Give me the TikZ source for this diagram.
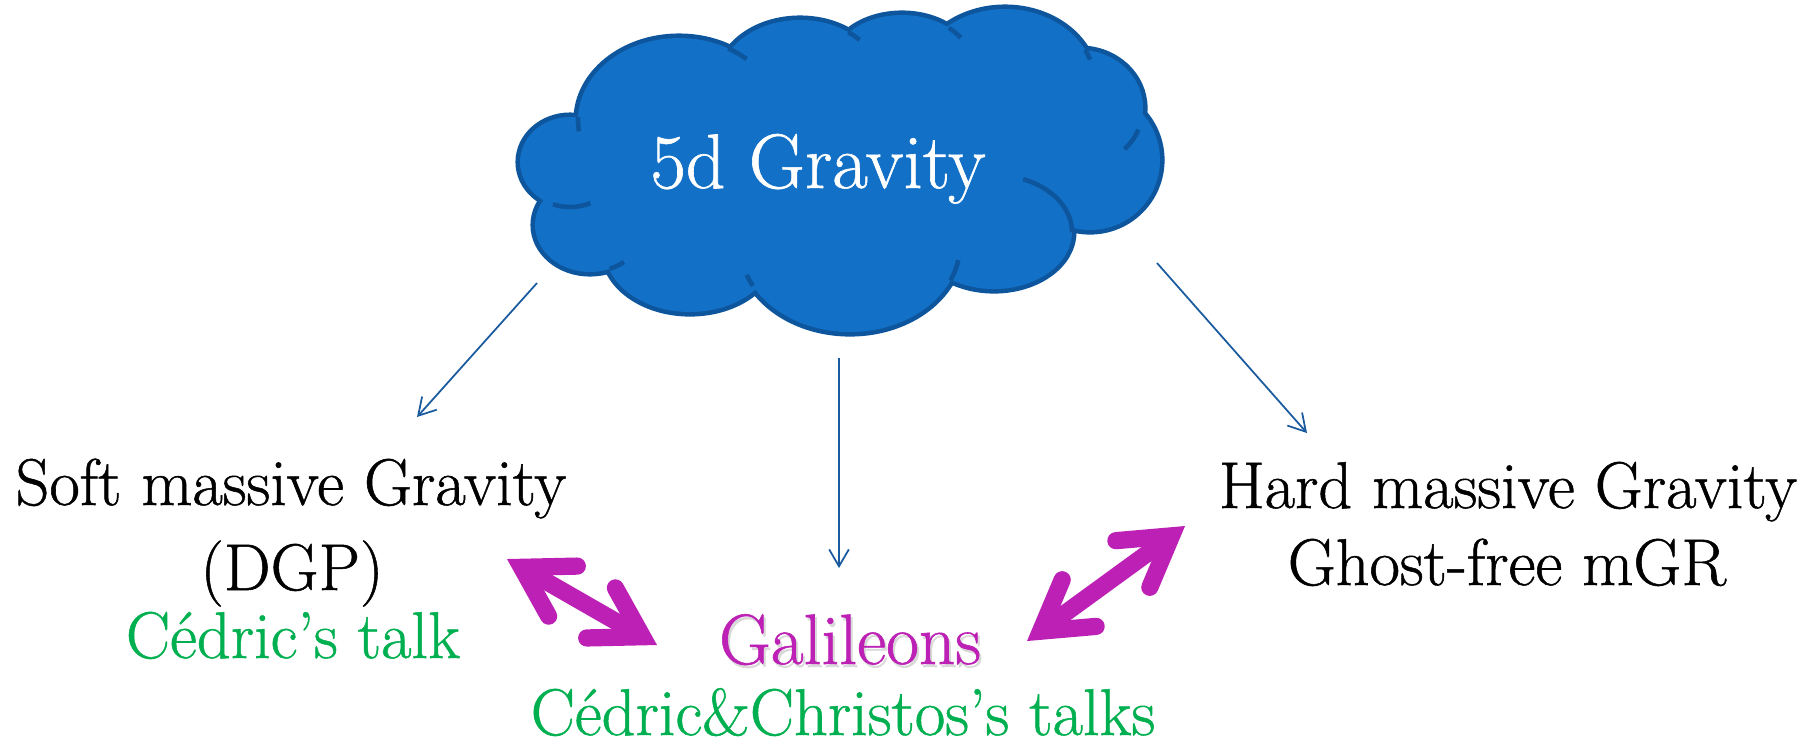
\documentclass[tikz,border=0pt]{standalone}
\usepackage{fontspec}
\setmainfont{Latin Modern Roman}[FakeBold=0.8]
\usepackage{tikz}
\usetikzlibrary{arrows.meta}
\definecolor{CloudFill}{HTML}{1270C6}
\definecolor{CloudEdge}{HTML}{0D559C}
\definecolor{LinkBlue}{HTML}{1A5A9E}
\definecolor{GalMag}{HTML}{BC20B4}
\definecolor{TalkGreen}{HTML}{00B050}
\newcommand{\cloudpuffs}{570/162/50/45, 590/225/55/47, 690/250/85/62, 850/245/110/87,
  994/232/78/57, 1090/160/70/70, 1080/108/63/58, 1005/84/90/75, 902/65/70/50,
  800/80/80/60, 679/120/101/82, 840/165/200/95, 650/200/50/40}
\newcommand{\puffstub}[6]{\draw[CloudEdge,line width=1.3pt] (#1,-#2) ++(#5:#3 and #4)
  arc[start angle=#5, end angle=#6, x radius=#3, y radius=#4];}

\begin{document}
\begin{tikzpicture}[x=0.01cm, y=0.01cm,
  label/.style={font=\fontsize{18.8}{22}\selectfont, anchor=base, inner sep=0pt},
  link/.style={LinkBlue, line width=0.5pt, -{Straight Barb[length=4.8pt,width=5.6pt]}},
  swap/.style={GalMag, line width=4.9pt,
    {Straight Barb[length=13.6pt,width=16.4pt,line cap=round,line join=miter]}-{Straight Barb[length=13.6pt,width=16.4pt,line cap=round,line join=miter]}}]
  \fill[white] (0,0) rectangle (1816,-747);
  \useasboundingbox (0,0) rectangle (1816,-747);
  \foreach \cx/\cy/\rx/\ry in \cloudpuffs
    \draw[CloudEdge, line width=2.6pt] (\cx,-\cy) ellipse [x radius=\rx, y radius=\ry];
  \foreach \cx/\cy/\rx/\ry in \cloudpuffs
    \fill[CloudFill] (\cx,-\cy) ellipse [x radius=\rx, y radius=\ry];
  \puffstub{679}{120}{101}{82}{178}{188}
  \puffstub{679}{120}{101}{82}{61}{48}
  \puffstub{800}{80}{80}{60}{53}{42}
  \puffstub{902}{65}{70}{50}{48}{33}
  \puffstub{1005}{84}{90}{75}{27}{19}
  \puffstub{1080}{108}{63}{58}{-22}{-45}
  \puffstub{994}{232}{78}{57}{68}{0}
  \puffstub{850}{245}{110}{87}{-24}{-10}
  \puffstub{850}{245}{110}{87}{208}{200}
  \puffstub{590}{225}{55}{47}{-69}{-52}
  \puffstub{570}{162}{50}{45}{-110}{-66}
  \node[label, font=\fontsize{22}{26}\selectfont, white] (cloud) at (818,-188) {5d Gravity};

  \node[label] (soft) at (291,-505) {Soft massive Gravity};
  \node[label] (dgp) at (292,-590) {(DGP)};
  \node[label, TalkGreen] (softtalk) at (293,-658) {Cédric’s talk};
  \node[label, font=\fontsize{20.3}{24}\selectfont, black!15] (galshadow) at (852,-667) {Galileons};
  \node[label, font=\fontsize{20.3}{24}\selectfont, GalMag] (gal) at (850,-664) {Galileons};
  \node[label, TalkGreen] (galtalk) at (843,-735) {Cédric\&Christos’s talks};
  \node[label] (hard) at (1508,-508) {Hard massive Gravity};
  \node[label] (ghost) at (1507,-585) {Ghost-free mGR};

  \coordinate (cw) at (537,-283);
  \coordinate (softin) at (417,-417);
  \coordinate (cs) at (839,-358);
  \coordinate (galin) at (839,-568);
  \coordinate (ce) at (1157,-263);
  \coordinate (hardin) at (1307,-433);
  \draw[link] (cw) -- (softin);
  \draw[link] (cs) -- (galin);
  \draw[link] (ce) -- (hardin);

  \coordinate (sa) at (507,-559);
  \coordinate (sb) at (657,-645);
  \coordinate (ha) at (1027,-641);
  \coordinate (hb) at (1185,-526);
  \draw[swap] (sa) -- (sb);
  \draw[swap] (ha) -- (hb);
\end{tikzpicture}
\end{document}
